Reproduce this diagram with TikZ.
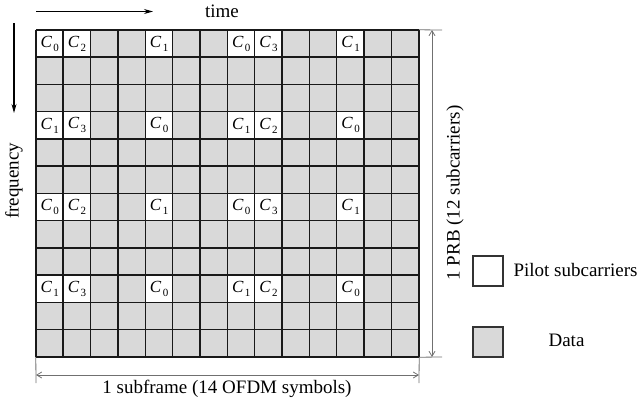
\documentclass[tikz,border=0pt]{standalone}
\usepackage{fontspec}
\setmainfont{Liberation Serif}
\usetikzlibrary{arrows.meta}
\definecolor{datagray}{HTML}{D9D9D9}
\definecolor{dimgray}{HTML}{707070}
\newcommand{\pil}[1]{{\fontsize{17}{17}\selectfont\itshape C}\kern1.5pt\raisebox{-4pt}{\fontsize{11}{11}\selectfont #1}}
\begin{document}
\begin{tikzpicture}[x=1pt,y=-1pt,
  every node/.style={font=\fontsize{19}{22}\selectfont},
  cellbox/.style={minimum width=27.357pt, minimum height=27.25pt, inner sep=0pt, fill=datagray},
  pilotbox/.style={cellbox, fill=white},
  gridline/.style={draw=black!90, line width=1.45pt},
  legendbox/.style={draw=black!80, line width=1.2pt, minimum size=30pt, inner sep=0pt},
  dimline/.style={draw=dimgray, line width=0.8pt},
  dimarrow/.style={dimline, {Straight Barb[length=5pt,width=6pt]}-{Straight Barb[length=5pt,width=6pt]}},
  axisarrow/.style={draw=black, line width=1.1pt, -{Stealth[length=9pt,width=5pt]}}]
\useasboundingbox (0,0) rectangle (639,405);

% data cells: 14 OFDM symbols x 12 subcarriers
\foreach \r in {0,...,11}{
  \foreach \c in {0,...,13}{
    \node[cellbox] (cell-\r-\c) at ({36+27.357*(\c+0.5)},{30+27.25*(\r+0.5)}) {};
  }
}

% pilot cells with their code labels
\foreach \r/\c/\k in {
  0/0/0, 0/1/2, 0/4/1, 0/7/0, 0/8/3, 0/11/1,
  3/0/1, 3/1/3, 3/4/0, 3/7/1, 3/8/2, 3/11/0,
  6/0/0, 6/1/2, 6/4/1, 6/7/0, 6/8/3, 6/11/1,
  9/0/1, 9/1/3, 9/4/0, 9/7/1, 9/8/2, 9/11/0}{
  \node[pilotbox] (pilot-\r-\c) at (cell-\r-\c) {\pil{\k}};
}

% grid lines
\foreach \c in {0,...,13}{
  \draw[gridline] (cell-0-\c.north west) -- (cell-11-\c.south west);
}
\draw[gridline] (cell-0-13.north east) -- (cell-11-13.south east);
\foreach \r in {0,...,11}{
  \draw[gridline] (cell-\r-0.north west) -- (cell-\r-13.north east);
}
\draw[gridline] (cell-11-0.south west) -- (cell-11-13.south east);

% grid corners
\coordinate (tl) at (cell-0-0.north west);
\coordinate (tr) at (cell-0-13.north east);
\coordinate (bl) at (cell-11-0.south west);
\coordinate (br) at (cell-11-13.south east);

% time and frequency axes
\coordinate (t0) at (36,11.5);
\coordinate (t1) at (153,11.5);
\draw[axisarrow] (t0) -- (t1);
\node (time) at (222,11) {time};
\coordinate (f0) at (14,23);
\coordinate (f1) at (14,113);
\draw[axisarrow] (f0) -- (f1);
\node[rotate=90] (freq) at (14,181) {frequency};

% vertical dimension: 1 PRB
\coordinate (e1) at (442,30);
\coordinate (e2) at (442,357);
\draw[dimline] (tr) -- (e1);
\draw[dimline] (br) -- (e2);
\coordinate (v1) at (432,30);
\coordinate (v2) at (432,357);
\draw[dimarrow] (v1) -- (v2);
\node[rotate=90] (prb) at (455,193) {1 PRB (12 subcarriers)};

% horizontal dimension: 1 subframe
\coordinate (e3) at (36,383);
\coordinate (e4) at (419,383);
\draw[dimline] (bl) -- (e3);
\draw[dimline] (br) -- (e4);
\coordinate (h1) at (36,375);
\coordinate (h2) at (419,375);
\draw[dimarrow] (h1) -- (h2);
\node (sub) at (227,389) {1 subframe (14 OFDM symbols)};

% legend
\node[legendbox, fill=white] (legpilot) at (488,271) {};
\node[anchor=west] (legpilottxt) at (510,270) {Pilot subcarriers};
\node[legendbox, fill=datagray] (legdata) at (488,342) {};
\node (legdatatxt) at (566.5,340) {Data};
\end{tikzpicture}
\end{document}
